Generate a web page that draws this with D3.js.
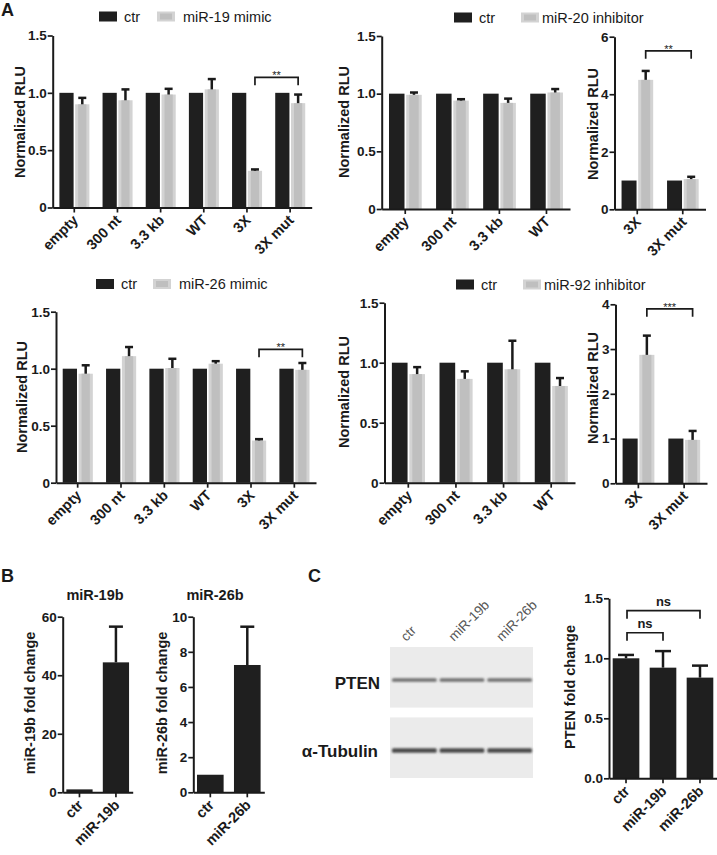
<!DOCTYPE html>
<html><head><meta charset="utf-8">
<script src="https://cdn.jsdelivr.net/npm/d3@7"></script>
<style>body{margin:0;background:#fff}svg{display:block}</style>
</head><body><svg id="c" width="717" height="855"></svg>
<script>
// ---------------- DATA ----------------
const catsA6 = ["empty","300 nt","3.3 kb","WT","3X","3X mut"];
const catsA4 = ["empty","300 nt","3.3 kb","WT"];
const catsSmall = ["3X","3X mut"];
const ctr6 = [1,1,1,1,1,1];
const ctr4 = [1,1,1,1];
const ctr2 = [1,1];
const mir19Mimic    = [0.90,0.935,0.985,1.03,0.32,0.91];
const mir19MimicSem = [0.056,0.095,0.05,0.09,0.012,0.075];
const mir20Inh      = [0.99,0.94,0.92,1.01];
const mir20InhSem   = [0.02,0.012,0.037,0.03];
const mir20InhS     = [4.5,1.05];
const mir20InhSSem  = [0.31,0.08];
const mir26Mimic    = [0.956,1.11,1.006,1.044,0.37,0.99];
const mir26MimicSem = [0.074,0.08,0.081,0.022,0.012,0.06];
const mir92Inh      = [0.905,0.865,0.945,0.806];
const mir92InhSem   = [0.058,0.063,0.238,0.066];
const mir92InhS     = [2.87,0.97];
const mir92InhSSem  = [0.43,0.2];
const ticksRLU = [0,0.5,1.0,1.5], ticksRLULab = ["0","0.5","1.0","1.5"];
const ticks6 = [0,2,4,6], ticks6Lab = ["0","2","4","6"];
const ticks4 = [0,1,2,3,4], ticks4Lab = ["0","1","2","3","4"];
const catsB1 = ["ctr","miR-19b"], valsB1 = [1,44.4], semB1 = [0,12.2];
const catsB2 = ["ctr","miR-26b"], valsB2 = [1,7.25], semB2 = [0,2.18];
const ticksB1 = [0,20,40,60], ticksB1Lab = ["0","20","40","60"];
const ticksB2 = [0,2,4,6,8,10], ticksB2Lab = ["0","2","4","6","8","10"];
const catsC = ["ctr","miR-19b","miR-26b"], valsC = [1.0,0.922,0.839], semC = [0.028,0.138,0.10];
const ticksC = [0,0.5,1.0,1.5], ticksCLab = ["0.0","0.5","1.0","1.5"];
const blotLanes = ["ctr","miR-19b","miR-26b"];
const blotRows = ["PTEN","α-Tubulin"];

// ---------------- DRAWING ----------------
const svg = d3.select("#c");
const FONT = "'Liberation Sans', Arial, sans-serif";
const DARK = "#1f1f1f", LEDGE = "#d3d3d3", LCORE = "#bfbfbf", INK = "#1a1a1a";

function txt(g, x, y, s, size, weight, anchor){
  return g.append("text").attr("x",x).attr("y",y).text(s)
    .attr("font-family",FONT).attr("font-size",size).attr("font-weight",weight||"normal")
    .attr("text-anchor",anchor||"start").attr("fill",INK);
}
function lightRect(g,x,y,w,h){
  g.append("rect").attr("x",x).attr("y",y).attr("width",w).attr("height",h).attr("fill",LEDGE);
  g.append("rect").attr("x",x+3).attr("y",y).attr("width",Math.max(0,w-6)).attr("height",h).attr("fill",LCORE);
}
function errBar(g,cx,yv,ye,cap){
  if (Math.abs(yv-ye) < 0.01) return;
  g.append("line").attr("x1",cx).attr("x2",cx).attr("y1",yv).attr("y2",ye).attr("stroke",INK).attr("stroke-width",2.5);
  g.append("line").attr("x1",cx-cap/2).attr("x2",cx+cap/2).attr("y1",ye).attr("y2",ye).attr("stroke",INK).attr("stroke-width",2.5);
}
function axes(g,x,y,o){
  const ya = d3.axisLeft(y).tickValues(o.ticks).tickFormat((d,i)=>o.tickLabels[i]).tickSize(5).tickSizeOuter(0).tickPadding(1);
  const gy = g.append("g").attr("transform",`translate(${o.x0},0)`).call(ya);
  const xa = d3.axisBottom(x).tickSize(5).tickSizeOuter(0).tickFormat("");
  const gx = g.append("g").attr("transform",`translate(0,${o.y0})`).call(xa);
  [gy,gx].forEach(s=>{
    s.select(".domain").attr("stroke",INK).attr("stroke-width",2);
    s.selectAll(".tick line").attr("stroke",INK).attr("stroke-width",1.7);
  });
  gy.selectAll("text").attr("font-size",13.5).attr("font-weight","bold").attr("fill",INK).attr("font-family",FONT);
  g.selectAll(null).data(o.cats).enter().append("text")
    .attr("transform",d=>`translate(${x(d)+x.bandwidth()/2+1},${o.y0+10}) rotate(-45)`)
    .attr("text-anchor","end").attr("dy","0.35em").text(d=>d)
    .attr("font-family",FONT).attr("font-size",14.5).attr("font-weight","bold").attr("fill",INK);
  g.append("text").attr("transform",`translate(${o.labX},${o.labY}) rotate(-90)`)
    .attr("text-anchor","middle").attr("dy","0.35em").text(o.yLabel)
    .attr("font-family",FONT).attr("font-size",14.5).attr("font-weight","bold").attr("fill",INK);
}
function bracket(g,xa,xb,yt,leg,label,size,weight,dyText){
  g.append("path").attr("d",`M${xa},${yt+leg}V${yt}H${xb}V${yt+leg}`)
    .attr("fill","none").attr("stroke",INK).attr("stroke-width",1.7);
  txt(g,(xa+xb)/2,yt+dyText,label,size,weight,"middle");
}
function groupedChart(o){
  const g = svg.append("g");
  const x = d3.scaleBand().domain(o.cats).range([o.x0,o.x1]);
  const y = d3.scaleLinear().domain([0,o.ymax]).range([o.y0,o.y1]);
  const sub = d3.scaleBand().domain(["ctr","trt"]).range([x.step()*0.155, x.step()*0.85]).paddingInner(0.1);
  o.cats.forEach((c,i)=>{
    const gx = x(c);
    g.append("rect").attr("x",gx+sub("ctr")).attr("y",y(o.ctr[i])).attr("width",sub.bandwidth())
      .attr("height",y(0)-y(o.ctr[i])).attr("fill",DARK);
    lightRect(g,gx+sub("trt"),y(o.trt[i]),sub.bandwidth(),y(0)-y(o.trt[i]));
    errBar(g,gx+sub("trt")+sub.bandwidth()/2,y(o.trt[i]),y(o.trt[i]+o.sem[i]),8);
  });
  axes(g,x,y,o);
  if (o.br){
    const cx = c => x(c)+sub("trt")+sub.bandwidth()/2;
    bracket(g,cx(o.br[0]),cx(o.br[1]),y(o.br[2]),8,o.br[3],11,"normal",2);
  }
  return {x,y,g};
}
function singleChart(o){
  const g = svg.append("g");
  const x = d3.scaleBand().domain(o.cats).range([o.x0,o.x1]).paddingInner(0.28).paddingOuter(0.1);
  const y = d3.scaleLinear().domain([0,o.ymax]).range([o.y0,o.y1]);
  o.cats.forEach((c,i)=>{
    g.append("rect").attr("x",x(c)).attr("y",y(o.vals[i])).attr("width",x.bandwidth())
      .attr("height",y(0)-y(o.vals[i])).attr("fill",DARK);
    errBar(g,x(c)+x.bandwidth()/2,y(o.vals[i]),y(o.vals[i]+o.sem[i]),o.cap);
  });
  axes(g,x,y,o);
  return {x,y,g};
}
function legend(x1,x2,yTop,label){
  const g = svg.append("g");
  g.append("rect").attr("x",x1).attr("y",yTop).attr("width",18).attr("height",10).attr("fill",DARK);
  txt(g,x1+25,yTop+10,"ctr",14.5,"normal");
  g.append("rect").attr("x",x2).attr("y",yTop).attr("width",18).attr("height",10).attr("fill",LEDGE);
  g.append("rect").attr("x",x2+3).attr("y",yTop+2).attr("width",12).attr("height",6).attr("fill",LCORE);
  txt(g,x2+(label.length>14?21:26),yTop+10,label,14.5,"normal");
}

// Panel A
txt(svg,1,16,"A",18,"bold");
legend(99,157,11.5,"miR-19 mimic");
groupedChart({cats:catsA6,ctr:ctr6,trt:mir19Mimic,sem:mir19MimicSem,x0:52.7,x1:311.7,y0:207.5,y1:35.5,ymax:1.5,
  ticks:ticksRLU,tickLabels:ticksRLULab,yLabel:"Normalized RLU",labX:20,labY:122,br:["3X","3X mut",1.135,"**"]});
legend(454,521,12.5,"miR-20 inhibitor");
groupedChart({cats:catsA4,ctr:ctr4,trt:mir20Inh,sem:mir20InhSem,x0:381.7,x1:570,y0:209,y1:36,ymax:1.5,
  ticks:ticksRLU,tickLabels:ticksRLULab,yLabel:"Normalized RLU",labX:344,labY:122});
groupedChart({cats:catsSmall,ctr:ctr2,trt:mir20InhS,sem:mir20InhSSem,x0:614.5,x1:705.5,y0:209.3,y1:36.7,ymax:6,
  ticks:ticks6,tickLabels:ticks6Lab,yLabel:"Normalized RLU",labX:593,labY:124,br:["3X","3X mut",5.51,"**"]});

legend(96,153,279,"miR-26 mimic");
groupedChart({cats:catsA6,ctr:ctr6,trt:mir26Mimic,sem:mir26MimicSem,x0:56,x1:316,y0:482.7,y1:311.7,ymax:1.5,
  ticks:ticksRLU,tickLabels:ticksRLULab,yLabel:"Normalized RLU",labX:22,labY:397,br:["3X","3X mut",1.17,"**"]});
legend(456,523,279.5,"miR-92 inhibitor");
groupedChart({cats:catsA4,ctr:ctr4,trt:mir92Inh,sem:mir92InhSem,x0:384.5,x1:575,y0:482.7,y1:302.7,ymax:1.5,
  ticks:ticksRLU,tickLabels:ticksRLULab,yLabel:"Normalized RLU",labX:344,labY:392});
groupedChart({cats:catsSmall,ctr:ctr2,trt:mir92InhS,sem:mir92InhSSem,x0:615.5,x1:707,y0:483.3,y1:304.3,ymax:4,
  ticks:ticks4,tickLabels:ticks4Lab,yLabel:"Normalized RLU",labX:593,labY:388,br:["3X","3X mut",3.9,"***"]});

// Panel B
txt(svg,1,582,"B",18,"bold");
txt(svg,95,600,"miR-19b",14.5,"bold","middle");
txt(svg,215,600,"miR-26b",14.5,"bold","middle");
singleChart({cats:catsB1,vals:valsB1,sem:semB1,cap:14,x0:62.7,x1:132.7,y0:792.3,y1:616.7,ymax:60,
  ticks:ticksB1,tickLabels:ticksB1Lab,yLabel:"miR-19b fold change",labX:30,labY:703});
singleChart({cats:catsB2,vals:valsB2,sem:semB2,cap:14,x0:193.3,x1:264.3,y0:792.3,y1:616.7,ymax:10,
  ticks:ticksB2,tickLabels:ticksB2Lab,yLabel:"miR-26b fold change",labX:161.5,labY:703});

// Panel C
txt(svg,308,582,"C",18,"bold");
(function blot(){
  const g = svg.append("g");
  const defs = svg.append("defs");
  defs.append("filter").attr("id","bl").attr("x","-10%").attr("y","-200%").attr("width","120%").attr("height","500%")
    .append("feGaussianBlur").attr("stdDeviation","1.3 1.2");
  const lane = d3.scaleBand().domain(blotLanes).range([391,533]).paddingInner(0.06).paddingOuter(0.02);
  const row = d3.scaleBand().domain(blotRows).range([647,778]).paddingInner(0.14);
  const bandY = {"PTEN":680,"α-Tubulin":750.5};
  const bandCol = {"PTEN":"#707070","α-Tubulin":"#4a4a4a"};
  const bandH = {"PTEN":3.6,"α-Tubulin":4.6};
  blotRows.forEach(r=>{
    g.append("rect").attr("x",390).attr("y",row(r)).attr("width",143).attr("height",row.bandwidth()).attr("fill","#ebebeb");
    blotLanes.forEach(l=>{
      g.append("rect").attr("x",lane(l)).attr("y",bandY[r]-bandH[r]/2).attr("width",lane.bandwidth())
        .attr("height",bandH[r]).attr("rx",1.5).attr("fill",bandCol[r]).attr("filter","url(#bl)");
    });
  });
  txt(g,380,689,"PTEN",17,"bold","end");
  txt(g,378,757,"α-Tubulin",17,"bold","end");
  blotLanes.forEach(l=>{
    g.append("text").attr("transform",`translate(${lane(l)+lane.bandwidth()/2-8},642) rotate(-45)`)
      .text(l).attr("font-family",FONT).attr("font-size",13.5).attr("fill","#555");
  });
})();
(function(){
  const c = singleChart({cats:catsC,vals:valsC,sem:semC,cap:16,x0:609,x1:717,y0:778.3,y1:598.3,ymax:1.5,
    ticks:ticksC,tickLabels:ticksCLab,yLabel:"PTEN fold change",labX:570,labY:687});
  const cx = d => c.x(d)+c.x.bandwidth()/2;
  bracket(c.g,cx("ctr")+1,cx("miR-19b"),c.y(1.213),8,"ns",13,"bold",-5);
  bracket(c.g,cx("ctr")+1,cx("miR-26b"),c.y(1.397),8,"ns",13,"bold",-5);
})();
</script></body></html>
